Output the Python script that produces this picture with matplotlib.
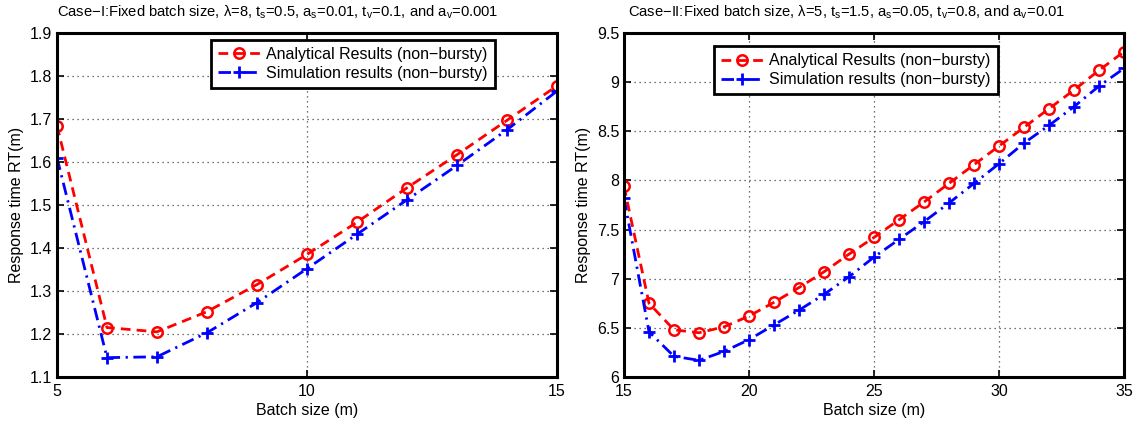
import numpy as np
import matplotlib.pyplot as plt

plt.rcParams['font.family'] = ['Liberation Sans', 'DejaVu Sans']
plt.rcParams['mathtext.fontset'] = 'custom'
plt.rcParams['mathtext.rm'] = 'Liberation Sans'
plt.rcParams['mathtext.it'] = 'Liberation Sans'

# Case I: batch sizes 5..15
m1 = list(range(5, 16))
ana1 = [1.684, 1.215, 1.205, 1.252, 1.315, 1.385, 1.460, 1.540, 1.617, 1.697, 1.777]
sim1 = [1.610, 1.145, 1.147, 1.203, 1.273, 1.352, 1.432, 1.512, 1.592, 1.675, 1.765]

# Case II: batch sizes 15..35
m2 = list(range(15, 36))
ana2 = [7.94, 6.75, 6.48, 6.45, 6.51, 6.62, 6.76, 6.91, 7.07, 7.25, 7.42,
        7.60, 7.78, 7.97, 8.16, 8.35, 8.54, 8.73, 8.92, 9.12, 9.31]
sim2 = [7.82, 6.46, 6.21, 6.17, 6.26, 6.38, 6.53, 6.68, 6.84, 7.02, 7.22,
        7.40, 7.58, 7.77, 7.97, 8.17, 8.38, 8.56, 8.75, 8.96, 9.14]

titles = [r'Case$-$I:Fixed batch size, $\lambda$=8, t$_\mathregular{s}$=0.5, a$_\mathregular{s}$=0.01, t$_\mathregular{v}$=0.1, and a$_\mathregular{v}$=0.001',
          r'Case$-$II:Fixed batch size, $\lambda$=5, t$_\mathregular{s}$=1.5, a$_\mathregular{s}$=0.05, t$_\mathregular{v}$=0.8, and a$_\mathregular{v}$=0.01']
lbl_ana = 'Analytical Results (non\u2212bursty)'
lbl_sim = 'Simulation results (non\u2212bursty)'

fig = plt.figure(figsize=(11.35, 4.25), dpi=100)
ax1 = fig.add_axes([57/1135, 48/425, 500/1135, 344/425])
ax2 = fig.add_axes([624/1135, 48/425, 500/1135, 344/425])

def draw(ax, x, a, s, title, title_x, xlim, xticks, ylim, yticks, leg_anchor):
    ax.plot(x, a, color='red', linestyle=(0, (3.5, 2.2)), linewidth=2,
            marker='o', markersize=7.5, markerfacecolor='none', markeredgewidth=1.8,
            label=lbl_ana)
    ax.plot(x, s, color='blue', linestyle=(0, (4.5, 2, 0.8, 2)), linewidth=2,
            marker='+', markersize=8, markeredgewidth=2, label=lbl_sim)
    ax.set_xlim(xlim)
    ax.set_ylim(ylim)
    ax.set_xticks(xticks)
    ax.set_yticks(yticks)
    ax.set_yticklabels([f'{v:g}' for v in yticks])
    ax.grid(True, linestyle=(0, (1, 3)), color='#444444', linewidth=0.9)
    ax.tick_params(direction='in', length=5, width=1.2, labelsize=11.5,
                   top=True, right=True)
    ax.tick_params(axis='x', pad=5)
    for sp in ax.spines.values():
        sp.set_linewidth(2.2)
    ax.set_xlabel('Batch size (m)', fontsize=11.5, labelpad=3)
    ax.set_ylabel('Response time RT(m)', fontsize=11.5, labelpad=4)
    ax.set_title(title, fontsize=10.6, pad=12, x=title_x)
    leg = ax.legend(loc='upper right', bbox_to_anchor=leg_anchor, fontsize=11.5,
                    fancybox=False, framealpha=1, edgecolor='black',
                    borderpad=0.45, handlelength=2.6, handletextpad=0.4,
                    labelspacing=0.25, borderaxespad=0)
    leg.get_frame().set_linewidth(2)

draw(ax1, m1, ana1, sim1, titles[0], 0.442, (5, 15), [5, 10, 15],
     (1.1, 1.9), np.round(np.arange(1.1, 1.91, 0.1), 1), (0.876, 0.98))
draw(ax2, m2, ana2, sim2, titles[1], 0.446, (15, 35), [15, 20, 25, 30, 35],
     (6, 9.5), np.arange(6, 9.51, 0.5), (0.748, 0.962))

fig.savefig('out.png', dpi=100)
